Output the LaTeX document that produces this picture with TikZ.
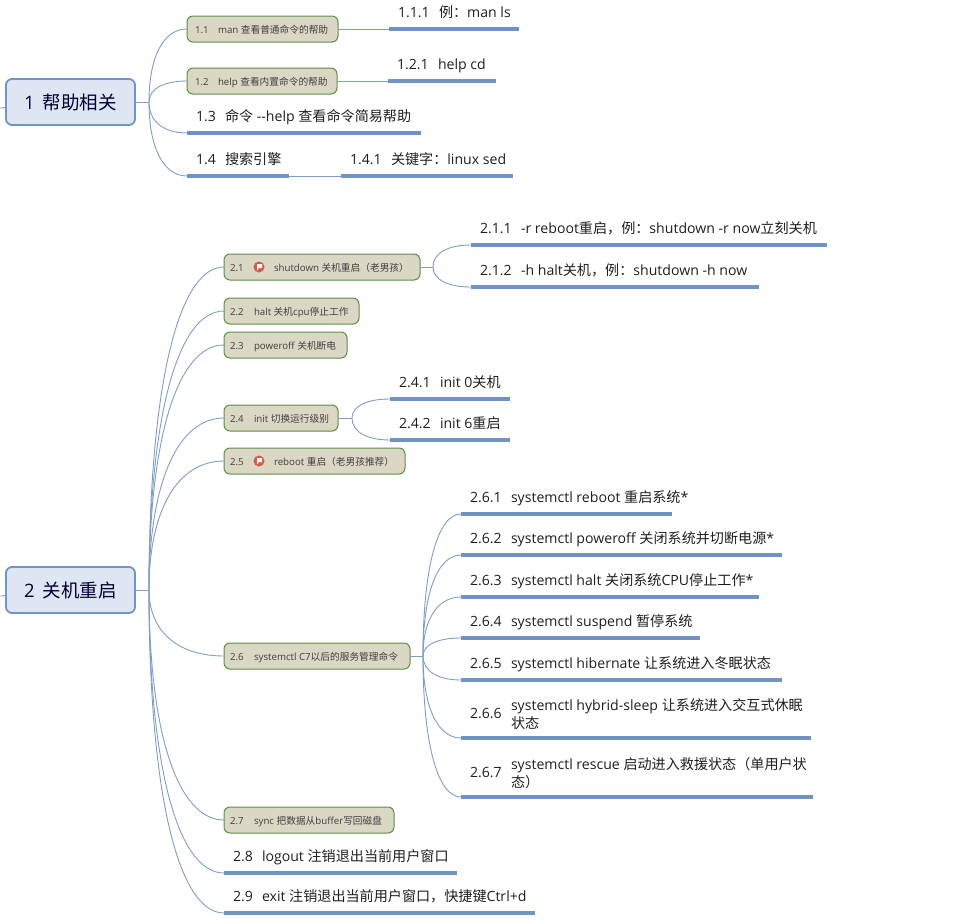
\documentclass[tikz,border=0pt]{standalone}
\usepackage{fontspec}
\usetikzlibrary{calc}
\setmainfont{Open Sans}
\newfontfamily\cjk{Noto Sans CJK SC}
\newcommand\C[1]{{\cjk #1}}
\definecolor{ulc}{HTML}{6F93C4}
\definecolor{connc}{HTML}{7F9DC6}
\definecolor{boxfill}{HTML}{DAD7C5}
\definecolor{boxline}{HTML}{5B8F45}
\definecolor{rootfill}{HTML}{DDE6F2}
\definecolor{rootline}{HTML}{6E95C6}
\definecolor{txt}{HTML}{1E1E1E}
\definecolor{flagc}{HTML}{D65A4C}
\tikzset{
 x=1pt,y=-1pt,
 leaf/.style={anchor=south west,inner sep=0pt,outer sep=0pt,text=txt,font=\fontsize{14.1}{18}\selectfont},
 ul/.style={draw=ulc,line width=3.2pt},
 conn/.style={draw=connc,line width=.9pt},
 sub/.style={draw=boxline,fill=boxfill,line width=1pt,rounded corners=6pt,anchor=west,minimum height=26pt,inner sep=0pt,outer sep=0pt,text=txt!85,font=\fontsize{9.7}{12}\selectfont},
 root/.style={draw=rootline,fill=rootfill,line width=1.8pt,rounded corners=6pt,anchor=west,minimum height=46pt,inner sep=0pt,outer sep=0pt,text=black!80!blue,font=\fontsize{18.5}{22}\selectfont},
 flagdisc/.style={circle,fill=flagc,minimum size=11pt,inner sep=0pt,outer sep=0pt},
}
% single-line leaf: name, x1, x2, y of underline, number box width, number, text
\newcommand\leafn[7]{%
 \node[leaf] (#1) at (#2,#4) {\makebox[\dimexpr#3pt-#2pt\relax][l]{\rule[-11.5pt]{0pt}{24pt}\hspace*{9pt}\makebox[#5pt][l]{#6}#7}};
 \draw[ul] (#1.south west) -- (#1.south east);}
% two-line leaf: number centred against the two lines
\newcommand\leafm[8]{%
 \node[leaf] (#1) at (#2,#4) {\makebox[\dimexpr#3pt-#2pt\relax][l]{\rule[-20pt]{0pt}{44pt}\hspace*{9pt}\makebox[#5pt][l]{#6}\parbox[c]{320pt}{#7\\#8}}};
 \draw[ul] (#1.south west) -- (#1.south east);}
% name, x1, x2, y centre, left pad, number box width, number, text
\newcommand\subn[8]{%
 \node[sub] (#1) at (#2,#4) {\makebox[\dimexpr#3pt-#2pt\relax][l]{\rule[-9pt]{0pt}{26pt}\hspace*{#5pt}\makebox[#6pt][l]{#7}#8}};}
\newcommand\curve[2]{\draw[conn] (#1) .. controls ($(#1)!.62!(#1 |- #2)$) and ($(#2)!.62!(#1 |- #2)$) .. (#2);}
\newcommand\flagat[2]{%
 \node[flagdisc] (#1) at #2 {};
 \fill[white] ($(#1)+(-2,-3)$) -- ($(#1)+(3,-3)$) -- ($(#1)+(3,1)$) -- ($(#1)+(-1,1)$) -- ($(#1)+(-1,3)$) -- ($(#1)+(-2,3)$) -- cycle;}
\begin{document}
\begin{tikzpicture}
\useasboundingbox (0,0) rectangle (978,924);
% roots
\node[root,minimum width=129pt] (r1) at (6,102) {1\hspace{8pt}\C{帮助相关}};
\node[root,minimum width=129pt] (r2) at (6,590) {2\hspace{8pt}\C{关机重启}};
\coordinate (j1) at (149,102);
\coordinate (j2) at (149,590);
\coordinate (o1) at (0,108);
\coordinate (o2) at (0,596);
\draw[conn] (r1.east) -- (j1);
\draw[conn] (r2.east) -- (j2);
\draw[conn] (r1.west) .. controls (r1.west |- o1) .. (o1);
\draw[conn] (r2.west) .. controls (r2.west |- o2) .. (o2);
% group 1
\subn{a1}{187}{338}{29}{8}{23}{1.1}{man \C{查看普通命令的帮助}}
\subn{a2}{187}{337}{81}{8}{23}{1.2}{help \C{查看内置命令的帮助}}
\leafn{a3}{187}{421}{133}{29}{1.3}{\C{命令} -{}-help \C{查看命令简易帮助}}
\leafn{a4}{187}{289}{176}{29}{1.4}{\C{搜索引擎}}
\leafn{a11}{389}{519}{29}{41}{1.1.1}{\C{例：}man ls}
\leafn{a21}{388}{496}{81}{41}{1.2.1}{help cd}
\leafn{a41}{341}{513}{176}{41}{1.4.1}{\C{关键字：}linux sed}
\curve{j1}{a1.west}
\curve{j1}{a2.west}
\curve{j1}{a3.south west}
\curve{j1}{a4.south west}
\draw[conn] (a1.east) -- (a11.south west);
\draw[conn] (a2.east) -- (a21.south west);
\draw[conn] (a4.south east) -- (a41.south west);
% group 2 boxes
\subn{b1}{224}{420}{267}{6}{44}{2.1}{shutdown \C{关机重启（老男孩）}}
\subn{b2}{224}{359}{311}{6}{24}{2.2}{halt \C{关机}cpu\C{停止工作}}
\subn{b3}{224}{347}{345}{6}{24}{2.3}{poweroff \C{关机断电}}
\subn{b4}{224}{338}{418}{6}{24}{2.4}{init \C{切换运行级别}}
\subn{b5}{224}{405}{461}{6}{44}{2.5}{reboot \C{重启（老男孩推荐）}}
\subn{b6}{224}{410}{656}{6}{24}{2.6}{systemctl C7\C{以后的服务管理命令}}
\subn{b7}{224}{394}{820}{6}{24}{2.7}{sync \C{把数据从}buffer\C{写回磁盘}}
\leafn{b8}{224}{457}{873}{29}{2.8}{logout \C{注销退出当前用户窗口}}
\leafn{b9}{224}{535}{913}{29}{2.9}{exit \C{注销退出当前用户窗口，快捷键}Ctrl+d}
% flag icons
\flagat{f1}{(259,267)}
\flagat{f5}{(259,461)}
% leaves of 2
\leafn{c11}{471}{827}{245}{41}{2.1.1}{-r reboot\C{重启，例：}shutdown -r now\C{立刻关机}}
\leafn{c12}{471}{759}{287}{41}{2.1.2}{-h halt\C{关机，例：}shutdown -h now}
\leafn{c41}{390}{510}{399}{41}{2.4.1}{init 0\C{关机}}
\leafn{c42}{390}{510}{440}{41}{2.4.2}{init 6\C{重启}}
\leafn{c61}{461}{672}{514}{41}{2.6.1}{systemctl reboot \C{重启系统}*}
\leafn{c62}{461}{782}{555}{41}{2.6.2}{systemctl poweroff \C{关闭系统并切断电源}*}
\leafn{c63}{461}{759}{597}{41}{2.6.3}{systemctl halt \C{关闭系统}CPU\C{停止工作}*}
\leafn{c64}{461}{700}{638}{41}{2.6.4}{systemctl suspend \C{暂停系统}}
\leafn{c65}{461}{782}{680}{41}{2.6.5}{systemctl hibernate \C{让系统进入冬眠状态}}
\leafm{c66}{461}{811}{738}{41}{2.6.6}{systemctl hybrid-sleep \C{让系统进入交互式休眠}}{\C{状态}}
\leafm{c67}{461}{813}{797}{41}{2.6.7}{systemctl rescue \C{启动进入救援状态（单用户状}}{\C{态）}}
% junctions
\coordinate (jb1) at (433,267);
\coordinate (jb4) at (352,418);
\coordinate (jb6) at (423,656);
\draw[conn] (b1.east) -- (jb1);
\draw[conn] (b4.east) -- (jb4);
\draw[conn] (b6.east) -- (jb6);
\curve{jb1}{c11.south west}
\curve{jb1}{c12.south west}
\curve{jb4}{c41.south west}
\curve{jb4}{c42.south west}
\curve{jb6}{c61.south west}
\curve{jb6}{c62.south west}
\curve{jb6}{c63.south west}
\curve{jb6}{c64.south west}
\curve{jb6}{c65.south west}
\curve{jb6}{c66.south west}
\curve{jb6}{c67.south west}
\curve{j2}{b1.west}
\curve{j2}{b2.west}
\curve{j2}{b3.west}
\curve{j2}{b4.west}
\curve{j2}{b5.west}
\curve{j2}{b6.west}
\curve{j2}{b7.west}
\curve{j2}{b8.south west}
\curve{j2}{b9.south west}
\end{tikzpicture}
\end{document}
